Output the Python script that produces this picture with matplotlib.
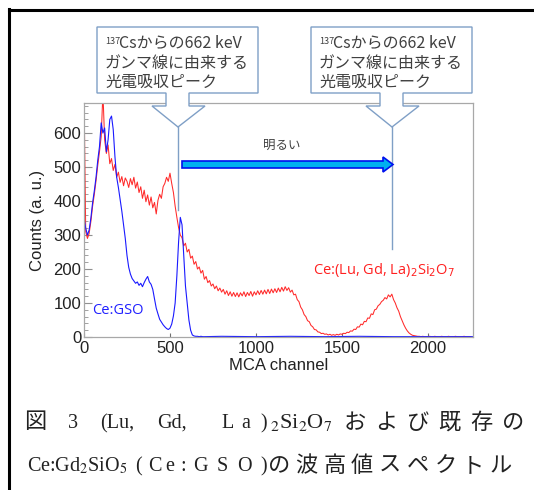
import numpy as np
import matplotlib
matplotlib.use("Agg")
import matplotlib.pyplot as plt
from matplotlib.patches import Polygon
from matplotlib.lines import Line2D
from matplotlib.ticker import MultipleLocator

# pulse height spectra (10 channel steps)
red_counts = [
    720, 310, 290, 305, 340, 385, 420, 460, 505, 545,
    590, 720, 580, 540, 565, 510, 525, 490, 508, 470,
    485, 455, 472, 445, 468, 458, 440, 466, 448, 470,
    438, 456, 425, 442, 408, 432, 398, 418, 388, 412,
    380, 396, 362, 402, 420, 408, 442, 452, 470, 458,
    482, 452, 425, 385, 352, 322, 300, 292, 268, 276,
    250, 258, 232, 238, 214, 222, 200, 206, 188, 196,
    170, 178, 160, 166, 150, 156, 142, 150, 136, 144,
    132, 140, 126, 136, 122, 133, 120, 131, 119, 130,
    118, 130, 121, 133, 119, 131, 122, 134, 120, 133,
    124, 136, 125, 137, 126, 138, 127, 140, 128, 141,
    130, 142, 131, 144, 133, 146, 135, 148, 137, 145,
    132, 138, 124, 126, 110, 104, 88, 80, 66, 60,
    48, 45, 34, 30, 22, 21, 15, 14, 10, 11,
    8, 9, 6, 8, 5, 7, 5, 8, 6, 9,
    8, 11, 10, 14, 13, 18, 17, 23, 22, 30,
    29, 38, 36, 46, 45, 56, 55, 68, 66, 80,
    82, 92, 96, 104, 108, 116, 112, 124, 118, 126,
    110, 100, 86, 76, 60, 48, 36, 26, 18, 12,
    8, 5, 4, 3, 2, 2, 1, 2, 1, 1,
    1, 2, 1, 1, 2, 1, 1, 1, 2, 1,
    1, 1, 2, 1, 1, 1, 2, 1, 1, 1,
    1, 2, 1, 1, 1, 1,
]
red_ch = np.arange(0, 10 * len(red_counts), 10)

blue_counts = [
    350, 320, 300, 315, 350, 395, 430, 470, 520, 560,
    630, 600, 615, 545, 580, 640, 650, 610, 530, 470,
    440, 405, 370, 330, 290, 240, 205, 185, 172, 165,
    158, 162, 152, 158, 148, 160, 170, 178, 162, 155,
    140, 112, 85, 68, 52, 44, 36, 30, 25, 22,
    26, 38, 62, 100, 180, 280, 352, 330, 240, 150,
    100, 50, 20, 6, 3, 2, 2, 1, 2, 1,
    1,
]
blue_ch = list(np.arange(0, 10 * len(blue_counts), 10))
blue_tail_ch = [800, 1000, 1200, 1400, 1600, 1800, 2000, 2260]
blue_tail = [2, 1, 2, 1, 2, 1, 1, 1]

callout_lines = ["Csからの662 keV", "ガンマ線に由来する", "光電吸収ピーク"]
caption_jp1 = "および既存の"
caption_jp2 = "の波高値スペクトル"

W, H = 534, 490
fig = plt.figure(figsize=(W / 100, H / 100), dpi=100)
fig.patch.set_facecolor("white")


def px(x, y):
    # pixel position (y from top) -> figure fraction
    return (x / W, 1 - y / H)


ax = fig.add_axes([84 / W, 1 - 337 / H, 389 / W, 233.5 / H])
ax.plot(red_ch, red_counts, color="#ff2a2a", lw=0.75)
ax.plot(blue_ch + blue_tail_ch, blue_counts + blue_tail, color="#1a1aff", lw=0.8)

ax.set_xlim(0, 2262)
ax.set_ylim(0, 687)
ax.xaxis.set_major_locator(MultipleLocator(500))
ax.yaxis.set_major_locator(MultipleLocator(100))
ax.yaxis.set_minor_locator(MultipleLocator(20))
ax.tick_params(axis="y", which="major", direction="in", length=6, width=0.8,
               color="#909090", labelsize=12, labelcolor="#222222", pad=2)
ax.tick_params(axis="y", which="minor", direction="in", length=3, width=0.6,
               color="#909090")
ax.tick_params(axis="x", which="major", direction="in", length=3, width=0.8,
               color="#707070", labelsize=12, labelcolor="#222222", pad=3)
for lab in ax.get_xticklabels() + ax.get_yticklabels():
    lab.set_fontfamily("Liberation Sans")
for s in ax.spines.values():
    s.set_color("#a8a8a8")
    s.set_linewidth(0.9)
ax.set_xlabel("MCA channel", fontsize=12, family="Liberation Sans", color="#222222", labelpad=1)
ax.set_ylabel("Counts (a. u.)", fontsize=12, family="Liberation Sans", color="#222222", labelpad=6)

ax.text(92 / W, 1 - 310 / H, "Ce:GSO", transform=fig.transFigure, color="#2020ff",
        fontsize=10.5, family="Open Sans", va="center", ha="left")
ax.text(313 / W, 1 - 270 / H, r"Ce:(Lu, Gd, La)$_2$Si$_2$O$_7$", transform=fig.transFigure,
        color="#ff2020", fontsize=10.5, family="Open Sans", math_fontfamily="dejavusans",
        va="center", ha="left")

# callouts pointing at the photo peaks
box_c = "#7f9fc6"
for dx, line_end in [(0, 210), (214, 249)]:
    pts = [(97, 27), (258, 27), (258, 93), (189, 93), (189, 106), (205, 106), (178, 127),
           (152, 106), (166, 106), (166, 93), (97, 93)]
    pts = [px(x + dx, y) for x, y in pts]
    fig.add_artist(Polygon(pts, closed=True, transform=fig.transFigure, fc="white",
                           ec=box_c, lw=1.0, zorder=5))
    fig.add_artist(Line2D([(178 + dx) / W] * 2, [1 - 127 / H, 1 - line_end / H],
                          transform=fig.transFigure, color=box_c, lw=1.0, zorder=5))
    fig.text(*px(105 + dx, 44), "137", fontsize=6.5, color="#404040",
             family="Noto Sans CJK JP", va="baseline", zorder=6)
    fig.text(*px(119 + dx, 48), callout_lines[0], fontsize=11.5, color="#404040",
             family="Noto Sans CJK JP", va="baseline", zorder=6)
    fig.text(*px(105 + dx, 68), callout_lines[1], fontsize=11.5, color="#404040",
             family="Noto Sans CJK JP", va="baseline", zorder=6)
    fig.text(*px(105 + dx, 87), callout_lines[2], fontsize=11.5, color="#404040",
             family="Noto Sans CJK JP", va="baseline", zorder=6)

# "brighter" arrow
arrow = [(182, 161), (383, 161), (383, 157), (393, 164.5), (383, 172), (383, 168), (182, 168)]
fig.add_artist(Polygon([px(x, y) for x, y in arrow], closed=True, transform=fig.transFigure,
                       fc="#00b0f0", ec="#0010ee", lw=1.2, zorder=6))
fig.text(*px(282, 145), "明るい", fontsize=9, color="#404040", family="Noto Sans CJK JP",
         ha="center", va="center", zorder=6)

# page frame
fig.add_artist(Line2D([8.5 / W, 8.5 / W], [0, 1 - 9 / H], transform=fig.transFigure,
                      color="black", lw=2.2))
fig.add_artist(Line2D([8.5 / W, 1], [1 - 10 / H, 1 - 10 / H], transform=fig.transFigure,
                      color="black", lw=2.2))

# caption (justified, so pieces are placed one by one)
cap = dict(fontsize=14.5, color="#222222", family="Liberation Serif", math_fontfamily="stix",
           va="baseline")
capc = dict(cap, ha="center")
jp = dict(fontsize=16, color="#222222", family="Noto Sans CJK JP", va="baseline", ha="center")
fig.text(*px(35, 428), "図", **jp)
fig.text(*px(68, 428), "3", **cap)
fig.text(*px(100, 428), "(Lu,", **cap)
fig.text(*px(157, 428), "Gd,", **cap)
for c, x in zip("La)", [228, 246, 264]):
    fig.text(*px(x, 428), c, **capc)
fig.text(*px(270, 428), r"$_2$Si$_2$O$_7$", **dict(cap, fontsize=16))
for c, x in zip(caption_jp1, np.linspace(355, 513, len(caption_jp1))):
    fig.text(*px(x, 429), c, **jp)
fig.text(*px(27, 471), r"Ce:Gd$_2$SiO$_5$", **cap)
for c, x in zip("(Ce:GSO)", [139, 155, 170, 183, 200, 222, 244, 264]):
    fig.text(*px(x, 471), c, **capc)
for c, x in zip(caption_jp2, np.linspace(279, 501, len(caption_jp2))):
    fig.text(*px(x, 472), c, **jp)

fig.savefig("out.png", dpi=100)
